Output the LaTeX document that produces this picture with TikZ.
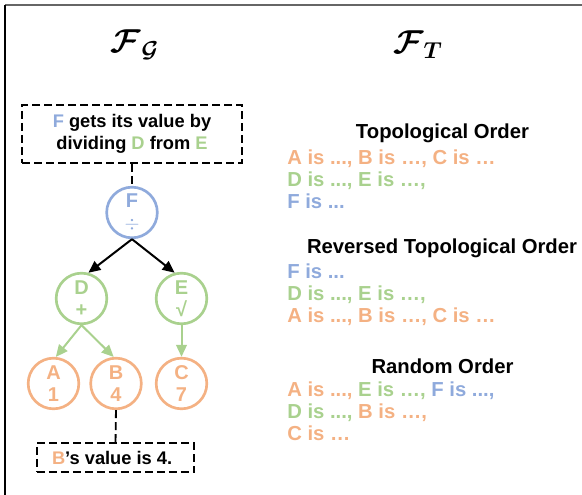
\documentclass[tikz,border=0pt]{standalone}
\usepackage{amsmath}
\usepackage{fontspec}
\setmainfont{Liberation Sans}
\usetikzlibrary{arrows.meta}

\definecolor{nodeorange}{HTML}{F4B183}
\definecolor{nodegreen}{HTML}{A9D18E}
\definecolor{nodeblue}{HTML}{8FAADC}

\tikzset{
    opnode/.style={draw, circle, line width=2pt, minimum size=38pt, inner sep=0pt,
        align=center, font=\fontsize{15}{16.5}\selectfont\bfseries},
    notebox/.style={draw, rectangle, dashed, dash pattern=on 6pt off 3pt, line width=1.4pt,
        align=center, font=\fontsize{13.7}{16.5}\selectfont\bfseries},
    blackarrow/.style={-{Triangle[length=9pt, width=8pt]}, line width=1.5pt},
    greenarrow/.style={-{Triangle[length=9pt, width=8pt]}, line width=1.5pt, nodegreen},
    orderhead/.style={font=\fontsize{15.2}{16.5}\selectfont\bfseries, inner sep=0pt},
    orderlist/.style={anchor=west, align=left, inner sep=0pt,
        font=\fontsize{15.2}{16.5}\selectfont\bfseries}
}

\begin{document}
\begin{tikzpicture}[x=0.75pt, y=-0.75pt]
\useasboundingbox (0,0) rectangle (582,495);

% frame
\draw[line width=1.5pt, black!60] (5,5) -- (582,5);
\draw[line width=1.1pt] (5,5) -- (5,495);

% titles
\node (titleG) at (135,45) {\fontsize{23}{26}\selectfont $\boldsymbol{\mathcal{F}}_{\boldsymbol{\mathcal{G}}}$};
\node (titleT) at (418,45) {\fontsize{23}{26}\selectfont $\boldsymbol{\mathcal{F}}_{\boldsymbol{T}}$};

% computation graph
\node[notebox, minimum width=165pt, minimum height=43.5pt] (noteF) at (132,134) {
    \textcolor{nodeblue}{F} gets its value by\\
    dividing \textcolor{nodegreen}{D} from \textcolor{nodegreen}{E}
};
\node[opnode, nodeblue] (F) at (132,212.5) {F\\$\div$};
\node[opnode, nodegreen] (D) at (81.5,298.5) {D\\+};
\node[opnode, nodegreen] (E) at (181.5,298.5) {E\\√};
\node[opnode, nodeorange] (A) at (53.5,383.5) {A\\1};
\node[opnode, nodeorange] (B) at (116,383.5) {B\\4};
\node[opnode, nodeorange] (C) at (181.5,383.5) {C\\7};
\node[notebox, minimum width=118pt, minimum height=22pt] (noteB) at (115.5,457.5) {
    \textcolor{nodeorange}{B}’s value is 4.
};

\draw[dashed, dash pattern=on 6pt off 3pt, line width=1.4pt] (noteF.south) -- (F.north);
\draw[blackarrow] (F.south) -- (D.75);
\draw[blackarrow] (F.south) -- (E.105);
\draw[greenarrow] (D.south) -- (A.85);
\draw[greenarrow] (D.south) -- (B.95);
\draw[greenarrow] (E.south) -- (C.north);
\draw[dashed, dash pattern=on 6pt off 3pt, line width=1.4pt] (B.south) -- (noteB.north);

% text orders
\node[orderhead] (topoHead) at (442.5,133) {Topological Order};
\node[orderlist] (topoList) at (287,179) {
    \textcolor{nodeorange}{A is ..., B is …, C is …}\\
    \textcolor{nodegreen}{D is ..., E is …,}\\
    \textcolor{nodeblue}{F is ...}
};
\node[orderhead] (revHead) at (442,248) {Reversed Topological Order};
\node[orderlist] (revList) at (287,295) {
    \textcolor{nodeblue}{F is ...}\\
    \textcolor{nodegreen}{D is ..., E is …,}\\
    \textcolor{nodeorange}{A is ..., B is …, C is …}
};
\node[orderhead] (randHead) at (442.5,366) {Random Order};
\node[orderlist] (randList) at (287,411) {
    \textcolor{nodeorange}{A is ...,} \textcolor{nodegreen}{E is …,} \textcolor{nodeblue}{F is ...,}\\
    \textcolor{nodegreen}{D is ...,} \textcolor{nodeorange}{B is …,}\\
    \textcolor{nodeorange}{C is …}
};

\end{tikzpicture}
\end{document}
